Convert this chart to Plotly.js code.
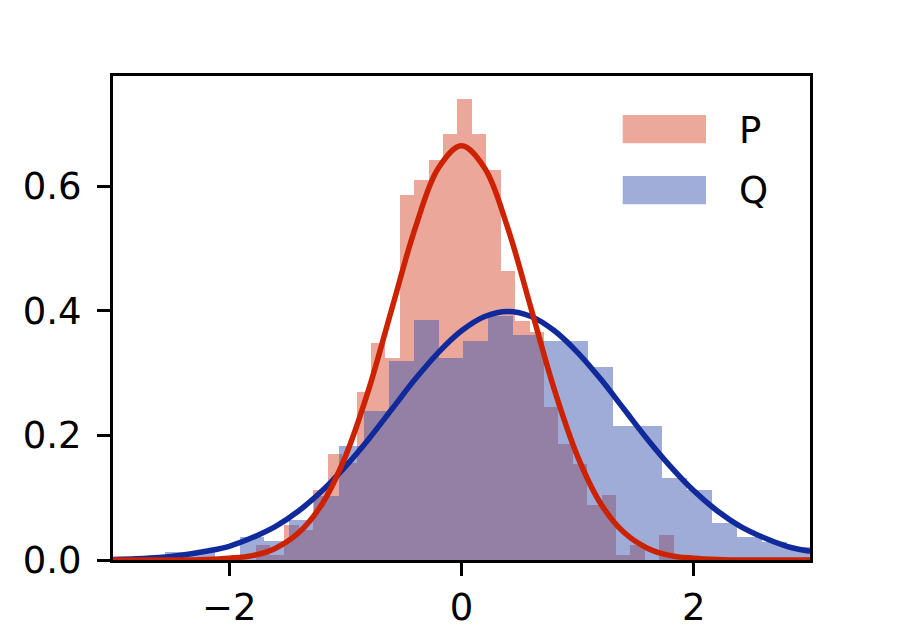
<!DOCTYPE html>
<html>
<head>
<meta charset="utf-8">
<script src="https://cdn.plot.ly/plotly-3.0.1.min.js"></script>
<style>html,body{margin:0;padding:0;background:#fff;}#chart{width:900px;height:630px;}</style>
</head>
<body>
<div id="chart"></div>
<script>
// ---- data ----
const seriesNames = ['P', 'Q'];

// histogram of P (density), 30 equal bins
const pBinStart = -1.772;
const pBinWidth = 0.1241;
const pDensity = [0.024, 0.008, 0.056, 0.048, 0.112, 0.170, 0.156, 0.270, 0.349, 0.325,
                  0.586, 0.610, 0.642, 0.684, 0.740, 0.684, 0.626, 0.464, 0.383, 0.366,
                  0.245, 0.187, 0.154, 0.088, 0.104, 0.008, 0.024, 0.000, 0.040, 0.008];

// histogram of Q (density), equal bins (those beyond x=3 not visible)
const qBinStart = -2.552;
const qBinWidth = 0.2140;
const qDensity = [0.013, 0.013, 0.005, 0.037, 0.031, 0.064, 0.103, 0.183, 0.239, 0.319,
                  0.385, 0.325, 0.352, 0.391, 0.361, 0.352, 0.352, 0.310, 0.215, 0.215,
                  0.131, 0.112, 0.060, 0.037, 0.029, 0.021];

// density curves read at x positions
const curveX = [-3.0, -2.8, -2.6, -2.4, -2.2, -2.0, -1.8, -1.6, -1.4, -1.2, -1.0, -0.8, -0.6, -0.4, -0.2,
                0.0, 0.2, 0.4, 0.6, 0.8, 1.0, 1.2, 1.4, 1.6, 1.8, 2.0, 2.2, 2.4, 2.6, 2.8, 3.0];
const pCurve = [0.000, 0.000, 0.000, 0.000, 0.001, 0.003, 0.007, 0.019, 0.044, 0.090, 0.166, 0.273, 0.403, 0.532, 0.629,
                0.665, 0.629, 0.532, 0.403, 0.273, 0.166, 0.090, 0.044, 0.019, 0.007, 0.003, 0.001, 0.000, 0.000, 0.000, 0.000];
const qCurve = [0.001, 0.002, 0.004, 0.008, 0.014, 0.022, 0.036, 0.054, 0.079, 0.111, 0.150, 0.194, 0.242, 0.290, 0.333,
                0.368, 0.391, 0.399, 0.391, 0.368, 0.333, 0.290, 0.242, 0.194, 0.150, 0.111, 0.079, 0.054, 0.036, 0.022, 0.014];

// axis ticks
const xTickVals = [-2, 0, 2];
const xTickText = ['\u22122', '0', '2'];
const yTickVals = [0, 0.2, 0.4, 0.6];
const yTickText = ['0.0', '0.2', '0.4', '0.6'];

// ---- styling ----
const pFill = '#D75137';
const qFill = '#415BB1';
const pLine = '#CC2200';
const qLine = '#102A9B';
const fontFamily = 'DejaVu Sans, sans-serif';

function centers(start, width, n) {
  const c = [];
  for (let i = 0; i < n; i++) c.push(start + width * (i + 0.5));
  return c;
}

const traces = [
  {
    type: 'bar', name: seriesNames[0],
    x: centers(pBinStart, pBinWidth, pDensity.length), y: pDensity,
    width: pBinWidth, marker: {color: pFill, line: {width: 0}}, opacity: 0.5,
    hoverinfo: 'skip'
  },
  {
    type: 'bar', name: seriesNames[1],
    x: centers(qBinStart, qBinWidth, qDensity.length), y: qDensity,
    width: qBinWidth, marker: {color: qFill, line: {width: 0}}, opacity: 0.5,
    hoverinfo: 'skip'
  },
  {
    type: 'scatter', mode: 'lines', x: curveX, y: qCurve,
    line: {color: qLine, width: 5.5, shape: 'spline'}, showlegend: false, hoverinfo: 'skip'
  },
  {
    type: 'scatter', mode: 'lines', x: curveX, y: pCurve,
    line: {color: pLine, width: 5.5, shape: 'spline'}, showlegend: false, hoverinfo: 'skip'
  }
];

const axisCommon = {
  ticks: 'outside', ticklen: 13, tickwidth: 3, tickcolor: '#000',
  showline: true, linewidth: 3, linecolor: '#000', mirror: true,
  showgrid: false, zeroline: false,
  tickfont: {family: fontFamily, size: 37, color: '#000'}
};

// manual legend (patch + label), positions in paper coordinates
const legendShapes = [
  {type: 'rect', xref: 'paper', yref: 'paper', x0: 0.7313, x1: 0.8508, y0: 0.8609, y1: 0.9194,
   fillcolor: pFill, opacity: 0.5, line: {width: 0}},
  {type: 'rect', xref: 'paper', yref: 'paper', x0: 0.7313, x1: 0.8508, y0: 0.7349, y1: 0.7934,
   fillcolor: qFill, opacity: 0.5, line: {width: 0}}
];
const legendLabels = [
  {xref: 'paper', yref: 'paper', x: 0.895, y: 0.888, xanchor: 'left', yanchor: 'middle',
   text: seriesNames[0], showarrow: false, font: {family: fontFamily, size: 37, color: '#000'}},
  {xref: 'paper', yref: 'paper', x: 0.895, y: 0.764, xanchor: 'left', yanchor: 'middle',
   text: seriesNames[1], showarrow: false, font: {family: fontFamily, size: 37, color: '#000'}}
];

const layout = {
  width: 900, height: 630,
  margin: {l: 113, r: 90, t: 76, b: 70, pad: 0},
  paper_bgcolor: '#fff', plot_bgcolor: '#fff',
  barmode: 'overlay', bargap: 0,
  showlegend: false,
  xaxis: Object.assign({}, axisCommon, {range: [-3, 3], tickvals: xTickVals, ticktext: xTickText}),
  yaxis: Object.assign({}, axisCommon, {range: [0, 0.777], tickvals: yTickVals, ticktext: yTickText,
                                        ticklabelstandoff: 8}),
  shapes: legendShapes,
  annotations: legendLabels
};

Plotly.newPlot('chart', traces, layout, {staticPlot: true, displayModeBar: false});
</script>
</body>
</html>
